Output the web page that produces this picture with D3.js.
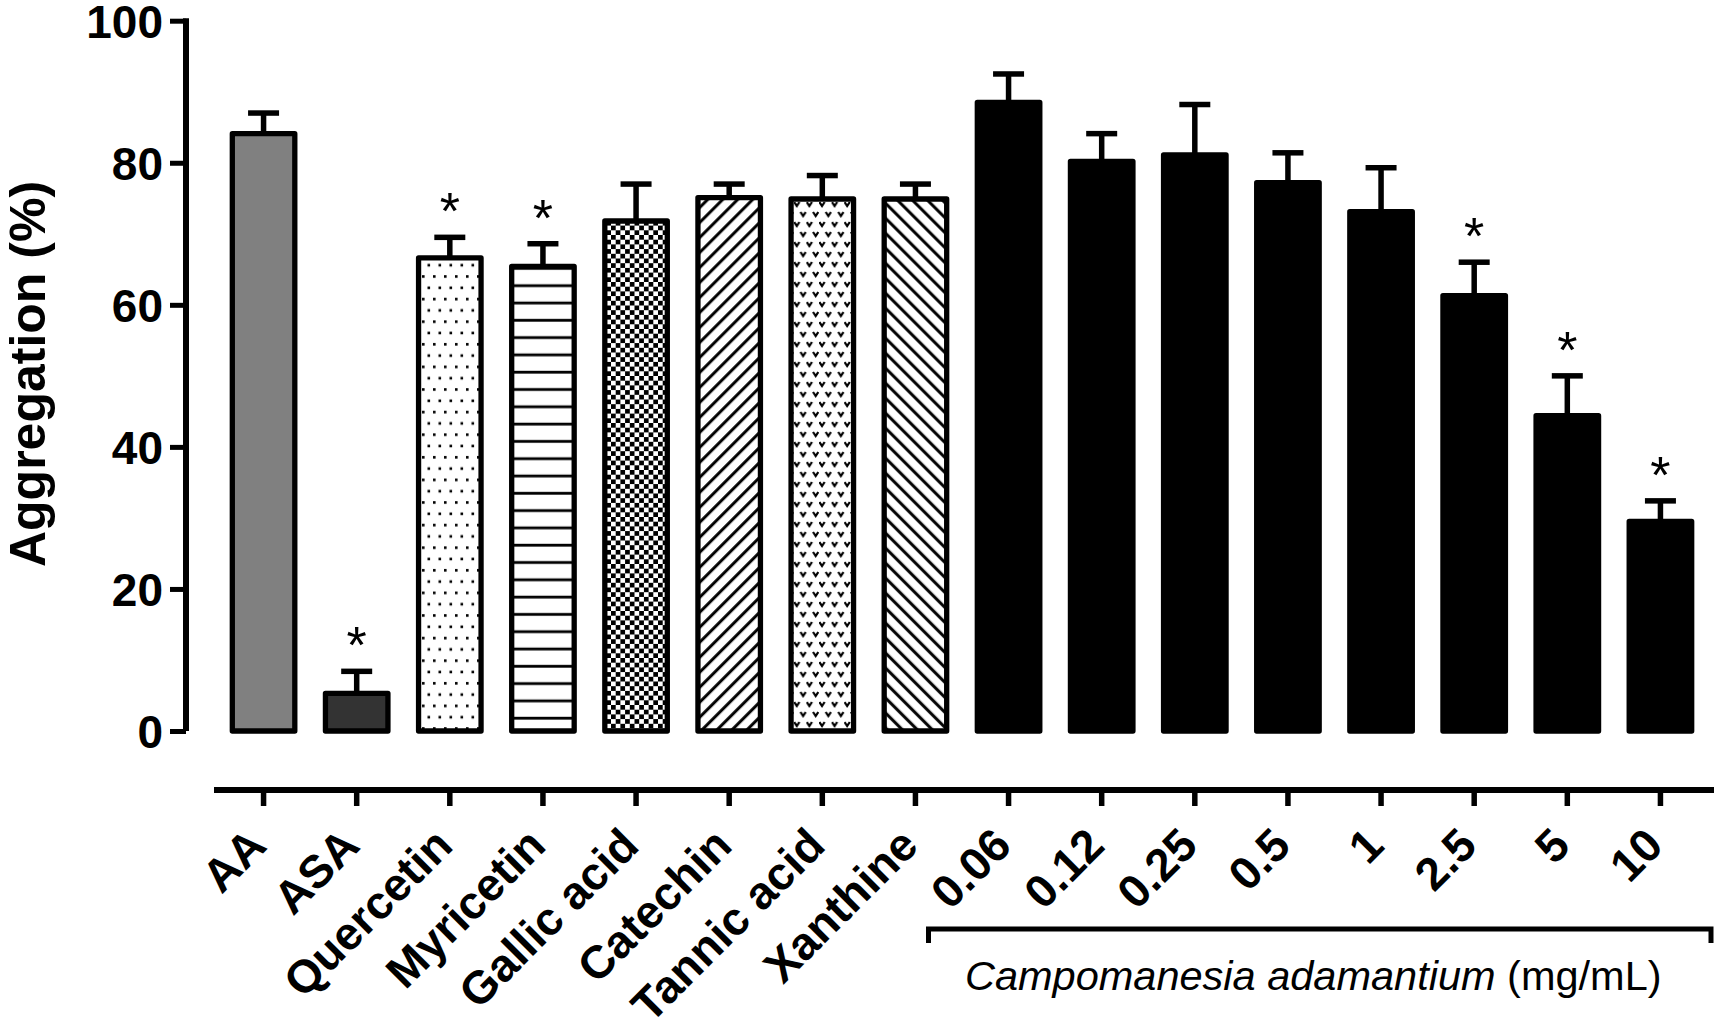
<!DOCTYPE html>
<html>
  <head>
    <meta charset="utf-8">
    <title>Platelet aggregation</title>
    <script src="https://d3js.org/d3.v7.min.js"></script>
    <style>
      body { margin: 0; background: #fff; }
      text { font-family: "Liberation Sans", Arial, sans-serif; fill: #000; }
      .ytick { font-size: 46px; font-weight: bold; }
      .xlab { font-size: 46px; font-weight: bold; }
    </style>
  </head>
  <body>
    <svg id="chart" width="1714" height="1021"></svg>
    <script>
      // data
      const categories = ["AA", "ASA", "Quercetin", "Myricetin", "Gallic acid", "Catechin", "Tannic acid", "Xanthine",
        "0.06", "0.12", "0.25", "0.5", "1", "2.5", "5", "10"];
      const means = [84.1, 5.3, 66.6, 65.4, 71.8, 75.1, 74.9, 74.9, 88.5, 80.2, 81.1, 77.2, 73.1, 61.3, 44.4, 29.5];
      const errors = [2.9, 3.1, 2.9, 3.2, 5.2, 1.9, 3.3, 2.1, 4.0, 3.9, 7.1, 4.2, 6.2, 4.7, 5.6, 2.9];
      const significant = [false, true, true, true, false, false, false, false,
        false, false, false, false, false, true, true, true];
      const fills = ["#808080", "#333333", "url(#dots)", "url(#hlines)", "url(#checker)", "url(#diagUp)", "url(#vees)", "url(#diagDown)",
        "#000", "#000", "#000", "#000", "#000", "#000", "#000", "#000"];
      const yTicks = [0, 20, 40, 60, 80, 100];
      const groupLabel = "Campomanesia adamantium";
      const unitLabel = " (mg/mL)";

      chart = d3.select("#chart");
      defs = chart.append("defs");

      // fill patterns
      p = defs.append("pattern").attr("id", "dots").attr("patternUnits", "userSpaceOnUse")
        .attr("width", 11).attr("height", 22.6);
      p.append("rect").attr("width", 11).attr("height", 22.6).attr("fill", "#fff");
      p.append("rect").attr("x", 4).attr("y", 4).attr("width", 2.6).attr("height", 2.6).attr("fill", "#000");
      p.append("rect").attr("x", 9.5).attr("y", 15.3).attr("width", 2.6).attr("height", 2.6).attr("fill", "#000");
      p.append("rect").attr("x", -1.5).attr("y", 15.3).attr("width", 2.6).attr("height", 2.6).attr("fill", "#000");

      p = defs.append("pattern").attr("id", "hlines").attr("patternUnits", "userSpaceOnUse")
        .attr("width", 20).attr("height", 17.3);
      p.append("rect").attr("width", 20).attr("height", 17.3).attr("fill", "#fff");
      p.append("rect").attr("y", 7.5).attr("width", 20).attr("height", 2.8).attr("fill", "#000");

      p = defs.append("pattern").attr("id", "checker").attr("patternUnits", "userSpaceOnUse")
        .attr("width", 9.4).attr("height", 9.4);
      p.append("rect").attr("width", 9.4).attr("height", 9.4).attr("fill", "#fff");
      p.append("rect").attr("width", 4.7).attr("height", 4.7).attr("fill", "#000");
      p.append("rect").attr("x", 4.7).attr("y", 4.7).attr("width", 4.7).attr("height", 4.7).attr("fill", "#000");

      [["diagUp", 45], ["diagDown", -45]].forEach(function(d) {
        let q = defs.append("pattern").attr("id", d[0]).attr("patternUnits", "userSpaceOnUse")
          .attr("width", 10.6).attr("height", 10.6)
          .attr("patternTransform", "rotate(" + d[1] + ")");
        q.append("rect").attr("width", 10.6).attr("height", 10.6).attr("fill", "#fff");
        q.append("rect").attr("x", 4).attr("width", 3).attr("height", 10.6).attr("fill", "#000");
      });

      p = defs.append("pattern").attr("id", "vees").attr("patternUnits", "userSpaceOnUse")
        .attr("width", 12.6).attr("height", 20);
      p.append("rect").attr("width", 12.6).attr("height", 20).attr("fill", "#fff");
      [[3, 4], [9.3, 14]].forEach(function(c) {
        p.append("path")
          .attr("d", "M" + (c[0] - 2.6) + "," + (c[1] - 2) + "L" + c[0] + "," + (c[1] + 2) + "L" + (c[0] + 2.6) + "," + (c[1] - 2))
          .attr("fill", "none").attr("stroke", "#000").attr("stroke-width", 2.2);
      });

      // scales
      x = d3.scaleBand().domain(categories).range([217, 1707]).paddingInner(0.33).paddingOuter(0.165);
      y = d3.scaleLinear().domain([0, 100]).range([731, 20.7]);
      barW = 62.5;

      // y axis
      yAxis = d3.axisLeft(y).tickValues(yTicks).tickSize(16).tickSizeOuter(0).tickPadding(7);
      yAxisGroup = chart.append("g").attr("transform", "translate(186,0)").call(yAxis);
      yAxisGroup.select(".domain").attr("stroke-width", 6).attr("d", "M0," + y(0) + "V" + (y(100) - 2.5));
      yAxisGroup.selectAll(".tick line").attr("stroke-width", 5);
      yAxisGroup.selectAll(".tick text").attr("class", "ytick").attr("font-size", null).attr("font-family", null)
        .attr("dy", "0.36em");

      chart.append("text")
        .attr("transform", "translate(45,374) rotate(-90)")
        .attr("text-anchor", "middle")
        .style("font-size", "50px").style("font-weight", "bold")
        .text("Aggregation (%)");

      // error bars (upper only)
      bars = chart.append("g");
      rows = categories.map(function(c, i) {
        return { name: c, mean: means[i], err: errors[i], star: significant[i], fill: fills[i] };
      });
      bars.selectAll(".stem").data(rows).enter().append("line")
        .attr("x1", function(d) { return x(d.name) + x.bandwidth() / 2; })
        .attr("x2", function(d) { return x(d.name) + x.bandwidth() / 2; })
        .attr("y1", function(d) { return y(d.mean); })
        .attr("y2", function(d) { return y(d.mean + d.err); })
        .attr("stroke", "#000").attr("stroke-width", 5.5);
      bars.selectAll(".cap").data(rows).enter().append("line")
        .attr("x1", function(d) { return x(d.name) + x.bandwidth() / 2 - 15.5; })
        .attr("x2", function(d) { return x(d.name) + x.bandwidth() / 2 + 15.5; })
        .attr("y1", function(d) { return y(d.mean + d.err); })
        .attr("y2", function(d) { return y(d.mean + d.err); })
        .attr("stroke", "#000").attr("stroke-width", 5.5);

      // bars
      bars.selectAll(".bar").data(rows).enter().append("rect")
        .attr("x", function(d) { return x(d.name) + x.bandwidth() / 2 - barW / 2; })
        .attr("width", barW)
        .attr("y", function(d) { return y(d.mean); })
        .attr("height", function(d) { return y(0) - y(d.mean); })
        .attr("fill", function(d) { return d.fill; })
        .attr("stroke", "#000").attr("stroke-width", 5.3).attr("stroke-linejoin", "round");

      // significance marks
      bars.selectAll(".star").data(rows.filter(function(d) { return d.star; })).enter().append("text")
        .attr("x", function(d) { return x(d.name) + x.bandwidth() / 2; })
        .attr("y", function(d) { return y(d.mean + d.err) - 8; })
        .attr("text-anchor", "middle")
        .style("font-size", "52px")
        .text("*");

      // category axis, detached below the plot
      xAxis = d3.axisBottom(x).tickSize(16).tickSizeOuter(0).tickFormat("");
      xAxisGroup = chart.append("g").attr("transform", "translate(0,790)").call(xAxis);
      xAxisGroup.select(".domain").attr("stroke-width", 6).attr("d", "M214,0H1714");
      xAxisGroup.selectAll(".tick line").attr("stroke-width", 5.5);

      chart.append("g").selectAll(".xlab").data(categories).enter().append("text")
        .attr("class", "xlab")
        .attr("text-anchor", "end")
        .attr("transform", function(d) {
          return "translate(" + (x(d) + x.bandwidth() / 2 + 5) + ",848) rotate(-45)";
        })
        .text(function(d) { return d; });

      // bracket under concentrations
      bx0 = 928.5;
      bx1 = 1711;
      chart.append("path")
        .attr("d", "M" + bx0 + ",943V929H" + bx1 + "V943")
        .attr("fill", "none").attr("stroke", "#000").attr("stroke-width", 5);

      lab = chart.append("text")
        .attr("x", 965).attr("y", 990)
        .style("font-size", "41.5px");
      lab.append("tspan").style("font-style", "italic").text(groupLabel);
      lab.append("tspan").text(unitLabel);
    </script>
  </body>
</html>
